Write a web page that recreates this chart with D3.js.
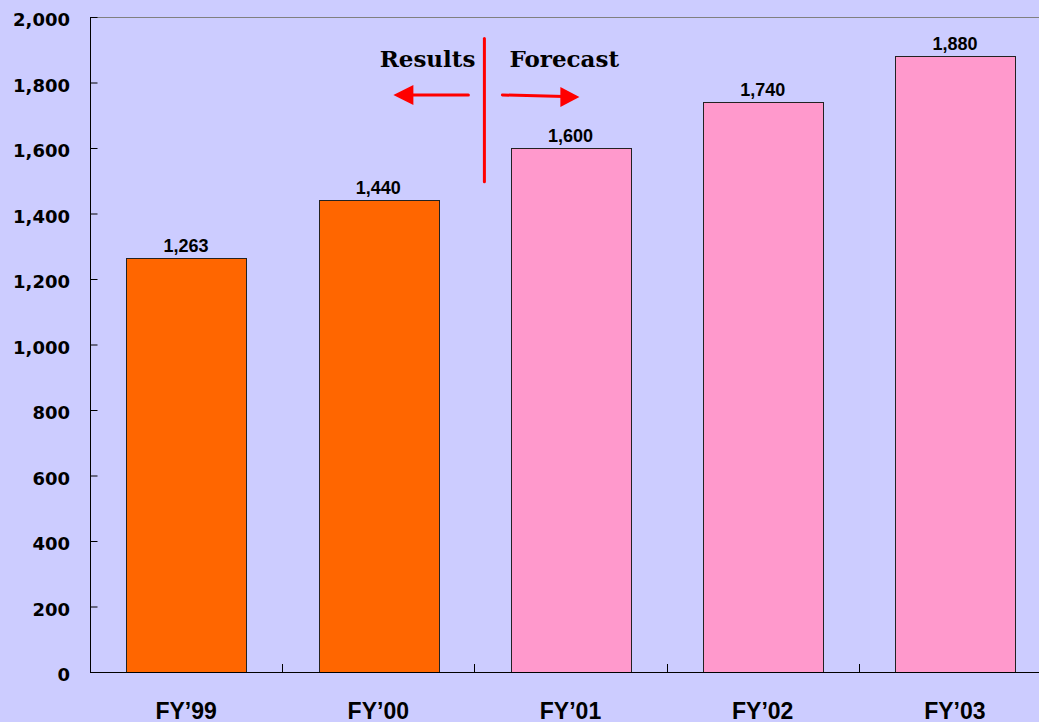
<!DOCTYPE html>
<html><head><meta charset="utf-8">
<script src="https://cdn.jsdelivr.net/npm/d3@7"></script>
<style>html,body{margin:0;padding:0;background:#CCCCFF;overflow:hidden}</style>
</head><body>
<script>
const categories = ["FY\u201999", "FY\u201900", "FY\u201901", "FY\u201902", "FY\u201903"];
const values = [1263, 1440, 1600, 1740, 1880];
const kinds = ["Results", "Results", "Forecast", "Forecast", "Forecast"];
const yTicks = [0, 200, 400, 600, 800, 1000, 1200, 1400, 1600, 1800, 2000];
const annotationLabels = ["Results", "Forecast"];

(function () {
const W = 1039, H = 722;
const mLeft = 90, mTop = 17, mBottom = 672, bandW = 192.2;
const svg = d3.select("body").append("svg").attr("width", W).attr("height", H)
  .style("display", "block");
svg.append("rect").attr("width", W).attr("height", H).attr("fill", "#CCCCFF");

const x = d3.scaleBand().domain(categories).range([mLeft, mLeft + bandW * categories.length])
  .paddingInner(0.378).paddingOuter(0.189);
const y = d3.scaleLinear().domain([0, 2000]).range([mBottom, mTop]);
const colors = {Results: "#FF6600", Forecast: "#FF99CC"};

svg.append("line").attr("x1", mLeft).attr("x2", W).attr("y1", y(2000) + 0.5).attr("y2", y(2000) + 0.5)
  .attr("stroke", "#808080").attr("stroke-width", 1);

svg.selectAll("rect.bar").data(categories).join("rect").attr("class", "bar")
  .attr("x", d => Math.round(x(d)) + 0.5)
  .attr("y", (d, i) => Math.round(y(values[i])) + 0.5)
  .attr("width", Math.round(x.bandwidth()))
  .attr("height", (d, i) => mBottom - Math.round(y(values[i])))
  .attr("fill", (d, i) => colors[kinds[i]])
  .attr("stroke", "#222").attr("stroke-width", 1);

svg.selectAll("text.val").data(categories).join("text").attr("class", "val")
  .attr("x", d => x(d) + x.bandwidth() / 2)
  .attr("y", (d, i) => y(values[i]) - 6)
  .attr("text-anchor", "middle")
  .attr("font-family", "Liberation Sans, Arial, sans-serif").attr("font-weight", "bold")
  .attr("font-size", 18).attr("fill", "#000")
  .text((d, i) => d3.format(",")(values[i]));

const yAxis = d3.axisRight(y).tickValues(yTicks).tickSize(7).tickFormat(() => "");
const ya = svg.append("g").attr("transform", `translate(${mLeft + 0.5},0)`).call(yAxis);
ya.select(".domain").attr("stroke", "#000").attr("d", `M0,${mTop}V${mBottom}`);
ya.selectAll(".tick line").attr("stroke", "#000");
svg.selectAll("text.yt").data(yTicks).join("text").attr("class", "yt")
  .attr("x", 70).attr("y", d => y(d) + 9)
  .attr("text-anchor", "end")
  .attr("font-family", "DejaVu Sans, sans-serif").attr("font-weight", "bold")
  .attr("font-size", 18).attr("fill", "#000")
  .text(d => d3.format(",")(d));

const boundaries = d3.range(categories.length + 1).map(i => mLeft + i * bandW);
svg.append("line").attr("x1", mLeft).attr("x2", W).attr("y1", mBottom + 0.5).attr("y2", mBottom + 0.5)
  .attr("stroke", "#000");
svg.selectAll("line.xt").data(boundaries.slice(1)).join("line").attr("class", "xt")
  .attr("x1", d => Math.round(d) + 0.5).attr("x2", d => Math.round(d) + 0.5)
  .attr("y1", mBottom - 8).attr("y2", mBottom).attr("stroke", "#000");
svg.selectAll("text.xl").data(categories).join("text").attr("class", "xl")
  .attr("x", d => x(d) + x.bandwidth() / 2).attr("y", 719)
  .attr("text-anchor", "middle")
  .attr("font-family", "Liberation Sans, Arial, sans-serif").attr("font-weight", "bold")
  .attr("font-size", 23).attr("fill", "#000")
  .text(d => d);

const divX = boundaries[2] + 10;
const red = "#FF0000";
svg.append("line").attr("x1", divX).attr("x2", divX).attr("y1", y(1934)).attr("y2", y(1497))
  .attr("stroke", red).attr("stroke-width", 3).attr("stroke-linecap", "round");
svg.append("text").attr("x", divX - 9).attr("y", 67).attr("text-anchor", "end")
  .attr("font-family", "DejaVu Serif, serif").attr("font-weight", "bold")
  .attr("font-size", 23).attr("fill", "#000").text(annotationLabels[0]);
svg.append("text").attr("x", divX + 25).attr("y", 67).attr("text-anchor", "start")
  .attr("font-family", "DejaVu Serif, serif").attr("font-weight", "bold")
  .attr("font-size", 23).attr("fill", "#000").text(annotationLabels[1]);
const ay = y(1762);
svg.append("line").attr("x1", divX - 16).attr("x2", divX - 75).attr("y1", ay).attr("y2", ay)
  .attr("stroke", red).attr("stroke-width", 3).attr("stroke-linecap", "round");
svg.append("path").attr("d", `M${divX - 91},${ay}L${divX - 71},${ay - 10}L${divX - 71},${ay + 10}Z`).attr("fill", red);
svg.append("line").attr("x1", divX + 18).attr("x2", divX + 80).attr("y1", ay).attr("y2", ay + 1.5)
  .attr("stroke", red).attr("stroke-width", 3).attr("stroke-linecap", "round");
svg.append("path").attr("d", `M${divX + 95},${ay + 2}L${divX + 76},${ay - 8}L${divX + 76},${ay + 12}Z`).attr("fill", red);
})();
</script>
</body></html>
